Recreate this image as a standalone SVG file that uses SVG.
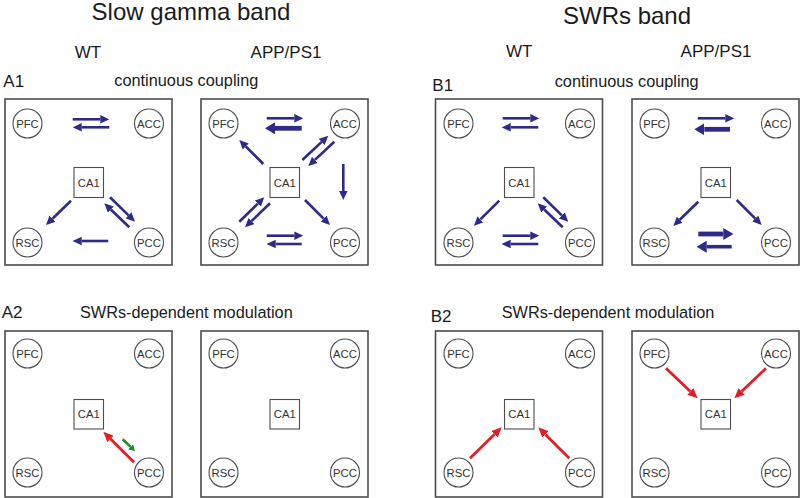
<svg xmlns="http://www.w3.org/2000/svg" width="800" height="498" viewBox="0 0 800 498">
<style>
.t{font-family:"Liberation Sans",Arial,sans-serif;fill:#1a1a1a}
.h{font-size:24px;text-anchor:middle}
.s{font-size:17px;text-anchor:middle}
.l{font-size:17px}
.c{font-size:16.3px}
.panel{fill:none;stroke:#4d4d4d;stroke-width:1.6}
.n circle,.n rect{fill:#fff;stroke:#4d4d4d;stroke-width:1.1}
.n text{font-family:"Liberation Sans",Arial,sans-serif;font-size:11.3px;fill:#333;text-anchor:middle}
.b{stroke:#2d2a8a;stroke-width:2.6;fill:none;marker-end:url(#hb)}
.bt{stroke:#2d2a8a;stroke-width:4.8;fill:none;marker-end:url(#hbt)}
.bm{stroke:#2d2a8a;stroke-width:3.6;fill:none;marker-end:url(#hbt)}
.r{stroke:#e31e24;stroke-width:2.8;fill:none;marker-end:url(#hr)}
.g{stroke:#1f8a2a;stroke-width:2.6;fill:none;marker-end:url(#hg)}
</style>
<defs>
<marker id="hb" viewBox="0 0 9 8.5" refX="0" refY="4.25" markerWidth="9" markerHeight="8.5" orient="auto" markerUnits="userSpaceOnUse"><path d="M0,0L9,4.25L0,8.5z" fill="#2d2a8a"/></marker>
<marker id="hbt" viewBox="0 0 10 12" refX="0" refY="6" markerWidth="10" markerHeight="12" orient="auto" markerUnits="userSpaceOnUse"><path d="M0,0L10,6L0,12z" fill="#2d2a8a"/></marker>
<marker id="hr" viewBox="0 0 10 9" refX="0" refY="4.5" markerWidth="10" markerHeight="9" orient="auto" markerUnits="userSpaceOnUse"><path d="M0,0L10,4.5L0,9z" fill="#e31e24"/></marker>
<marker id="hg" viewBox="0 0 6 7" refX="0" refY="3.5" markerWidth="6" markerHeight="7" orient="auto" markerUnits="userSpaceOnUse"><path d="M0,0L6,3.5L0,7z" fill="#1f8a2a"/></marker>
</defs>
<rect width="800" height="498" fill="#fff"/>

<g id="labels">
<text class="t h" x="191" y="19.5">Slow gamma band</text>
<text class="t h" x="627" y="23.5">SWRs band</text>
<text class="t s" x="88" y="58.3">WT</text>
<text class="t s" x="286" y="58.3">APP/PS1</text>
<text class="t s" x="519.3" y="57.3">WT</text>
<text class="t s" x="716" y="57.3">APP/PS1</text>
<text class="t l" x="3.3" y="87.3">A1</text>
<text class="t c" x="186.3" y="86" text-anchor="middle">continuous coupling</text>
<text class="t l" x="432.3" y="90.7">B1</text>
<text class="t c" x="626.7" y="86.7" text-anchor="middle">continuous coupling</text>
<text class="t l" x="1.7" y="318.3">A2</text>
<text class="t c" x="80" y="318.3">SWRs-dependent modulation</text>
<text class="t l" x="430.7" y="321.7">B2</text>
<text class="t c" x="501.7" y="318.3">SWRs-dependent modulation</text>
</g>

<g id="panels">
<rect class="panel" x="5" y="99" width="167" height="166"/>
<rect class="panel" x="201" y="99" width="167" height="166"/>
<rect class="panel" x="435.5" y="99" width="167" height="166"/>
<rect class="panel" x="632" y="99" width="167" height="166"/>
<rect class="panel" x="5" y="331" width="167" height="166"/>
<rect class="panel" x="201" y="331" width="167" height="166"/>
<rect class="panel" x="435.5" y="331" width="167" height="166"/>
<rect class="panel" x="632" y="331" width="167" height="166"/>
</g>

<!-- A1 WT -->
<g id="a1wt-pfc" class="n"><circle cx="27.5" cy="123.5" r="14.5"/><text x="27.5" y="127.5">PFC</text></g>
<g id="a1wt-acc" class="n"><circle cx="149" cy="123.5" r="14.5"/><text x="149" y="127.5">ACC</text></g>
<g id="a1wt-rsc" class="n"><circle cx="27.5" cy="242.5" r="14.5"/><text x="27.5" y="246.5">RSC</text></g>
<g id="a1wt-pcc" class="n"><circle cx="149" cy="242.5" r="14.5"/><text x="149" y="246.5">PCC</text></g>
<g id="a1wt-ca1" class="n"><rect x="74" y="167.5" width="29.5" height="30"/><text x="88.75" y="186.5">CA1</text></g>
<!-- A1 APP -->
<g id="a1app-pfc" class="n"><circle cx="223.5" cy="123.5" r="14.5"/><text x="223.5" y="127.5">PFC</text></g>
<g id="a1app-acc" class="n"><circle cx="345" cy="123.5" r="14.5"/><text x="345" y="127.5">ACC</text></g>
<g id="a1app-rsc" class="n"><circle cx="223.5" cy="242.5" r="14.5"/><text x="223.5" y="246.5">RSC</text></g>
<g id="a1app-pcc" class="n"><circle cx="345" cy="242.5" r="14.5"/><text x="345" y="246.5">PCC</text></g>
<g id="a1app-ca1" class="n"><rect x="270" y="167.5" width="29.5" height="30"/><text x="284.75" y="186.5">CA1</text></g>
<!-- B1 WT -->
<g id="b1wt-pfc" class="n"><circle cx="458.5" cy="123.5" r="14.5"/><text x="458.5" y="127.5">PFC</text></g>
<g id="b1wt-acc" class="n"><circle cx="580" cy="123.5" r="14.5"/><text x="580" y="127.5">ACC</text></g>
<g id="b1wt-rsc" class="n"><circle cx="458.5" cy="242.5" r="14.5"/><text x="458.5" y="246.5">RSC</text></g>
<g id="b1wt-pcc" class="n"><circle cx="580" cy="242.5" r="14.5"/><text x="580" y="246.5">PCC</text></g>
<g id="b1wt-ca1" class="n"><rect x="504.5" y="167.5" width="29.5" height="30"/><text x="519.25" y="186.5">CA1</text></g>
<!-- B1 APP -->
<g id="b1app-pfc" class="n"><circle cx="654.5" cy="123.5" r="14.5"/><text x="654.5" y="127.5">PFC</text></g>
<g id="b1app-acc" class="n"><circle cx="776" cy="123.5" r="14.5"/><text x="776" y="127.5">ACC</text></g>
<g id="b1app-rsc" class="n"><circle cx="654.5" cy="242.5" r="14.5"/><text x="654.5" y="246.5">RSC</text></g>
<g id="b1app-pcc" class="n"><circle cx="776" cy="242.5" r="14.5"/><text x="776" y="246.5">PCC</text></g>
<g id="b1app-ca1" class="n"><rect x="701" y="167.5" width="29.5" height="30"/><text x="715.75" y="186.5">CA1</text></g>
<!-- A2 WT -->
<g id="a2wt-pfc" class="n"><circle cx="27.5" cy="353.5" r="14.5"/><text x="27.5" y="357.5">PFC</text></g>
<g id="a2wt-acc" class="n"><circle cx="149" cy="353.5" r="14.5"/><text x="149" y="357.5">ACC</text></g>
<g id="a2wt-rsc" class="n"><circle cx="27.5" cy="472.5" r="14.5"/><text x="27.5" y="476.5">RSC</text></g>
<g id="a2wt-pcc" class="n"><circle cx="149" cy="472.5" r="14.5"/><text x="149" y="476.5">PCC</text></g>
<g id="a2wt-ca1" class="n"><rect x="74" y="399.5" width="29.5" height="29.5"/><text x="88.75" y="418.3">CA1</text></g>
<!-- A2 APP -->
<g id="a2app-pfc" class="n"><circle cx="223.5" cy="353.5" r="14.5"/><text x="223.5" y="357.5">PFC</text></g>
<g id="a2app-acc" class="n"><circle cx="345" cy="353.5" r="14.5"/><text x="345" y="357.5">ACC</text></g>
<g id="a2app-rsc" class="n"><circle cx="223.5" cy="472.5" r="14.5"/><text x="223.5" y="476.5">RSC</text></g>
<g id="a2app-pcc" class="n"><circle cx="345" cy="472.5" r="14.5"/><text x="345" y="476.5">PCC</text></g>
<g id="a2app-ca1" class="n"><rect x="270" y="399.5" width="29.5" height="29.5"/><text x="284.75" y="418.3">CA1</text></g>
<!-- B2 WT -->
<g id="b2wt-pfc" class="n"><circle cx="458.5" cy="353.5" r="14.5"/><text x="458.5" y="357.5">PFC</text></g>
<g id="b2wt-acc" class="n"><circle cx="580" cy="353.5" r="14.5"/><text x="580" y="357.5">ACC</text></g>
<g id="b2wt-rsc" class="n"><circle cx="458.5" cy="472.5" r="14.5"/><text x="458.5" y="476.5">RSC</text></g>
<g id="b2wt-pcc" class="n"><circle cx="580" cy="472.5" r="14.5"/><text x="580" y="476.5">PCC</text></g>
<g id="b2wt-ca1" class="n"><rect x="504.5" y="399.5" width="29.5" height="29.5"/><text x="519.25" y="418.3">CA1</text></g>
<!-- B2 APP -->
<g id="b2app-pfc" class="n"><circle cx="654.5" cy="353.5" r="14.5"/><text x="654.5" y="357.5">PFC</text></g>
<g id="b2app-acc" class="n"><circle cx="776" cy="353.5" r="14.5"/><text x="776" y="357.5">ACC</text></g>
<g id="b2app-rsc" class="n"><circle cx="654.5" cy="472.5" r="14.5"/><text x="654.5" y="476.5">RSC</text></g>
<g id="b2app-pcc" class="n"><circle cx="776" cy="472.5" r="14.5"/><text x="776" y="476.5">PCC</text></g>
<g id="b2app-ca1" class="n"><rect x="701" y="399.5" width="29.5" height="29.5"/><text x="715.75" y="418.3">CA1</text></g>

<g id="connectors">
<!-- A1 WT -->
<path class="b" d="M72.7,119.3H100.3"/>
<path class="b" d="M109.3,127.3H81.7"/>
<path class="b" d="M71,200.7L52.45,218.7"/>
<path class="b" d="M110,197.3L128.55,215.4"/>
<path class="b" d="M129.3,227.3L110.8,209.5"/>
<path class="b" d="M108.3,241H81.7"/>
<!-- A1 APP -->
<path class="b" d="M266.7,118.3H294.3"/>
<path class="bt" d="M301.7,128.3H275"/>
<path class="b" d="M263.3,164L245.7,146.4"/>
<path class="b" d="M302.3,160L321.7,141.9"/>
<path class="b" d="M334.3,141.7L314.9,159.9"/>
<path class="b" d="M343.3,164V191"/>
<path class="b" d="M305,200L323.6,218.6"/>
<path class="b" d="M239.3,221.7L257.85,203.6"/>
<path class="b" d="M270,203.3L251.5,221.1"/>
<path class="b" d="M266.7,235.7H294.3"/>
<path class="b" d="M301.7,244H275.7"/>
<!-- B1 WT -->
<path class="b" d="M502.7,118.3H530.3"/>
<path class="b" d="M538.3,127.3H510.7"/>
<path class="b" d="M499.3,200.7L480.4,219.4"/>
<path class="b" d="M543.3,197.3L561.85,215.4"/>
<path class="b" d="M562.7,227.3L544.2,209.5"/>
<path class="b" d="M502.7,235.7H530.3"/>
<path class="b" d="M538.3,244H510.7"/>
<!-- B1 APP -->
<path class="b" d="M697.7,118.3H725.3"/>
<path class="bt" d="M730,129.3H704.3"/>
<path class="b" d="M698.3,201.7L679.75,219.7"/>
<path class="b" d="M736.7,200L755.3,218.6"/>
<path class="bt" d="M698.3,234H723.3"/>
<path class="bm" d="M731.7,246.7H706.7"/>
<!-- A2 WT -->
<path class="r" d="M134,462.3L110.4,438.8"/>
<path class="g" d="M122.7,439.3L130.65,446.9"/>
<!-- B2 WT -->
<path class="r" d="M470,458.3L494.55,434.3"/>
<path class="r" d="M569.3,458.3L545.4,434.4"/>
<!-- B2 APP -->
<path class="r" d="M666,368.3L690.4,391.4"/>
<path class="r" d="M766,368.3L741.6,391.4"/>
</g>
</svg>
